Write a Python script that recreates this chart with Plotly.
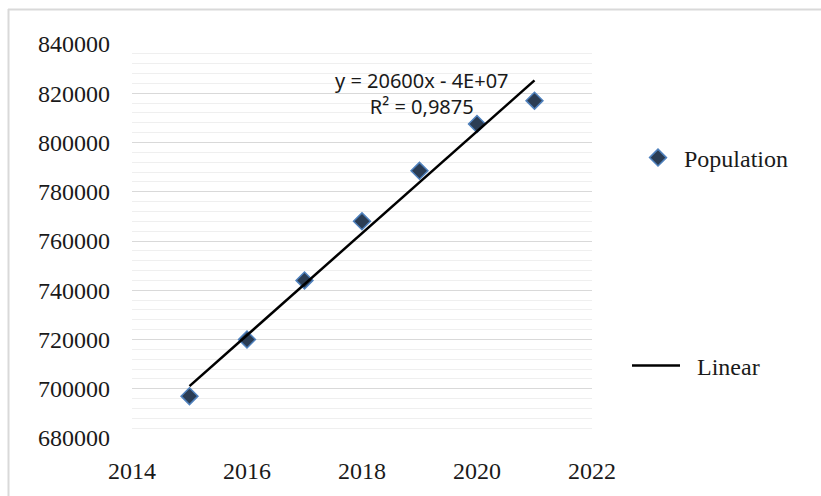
import numpy as np
import plotly.graph_objects as go

# ---- data ----
years = [2015, 2016, 2017, 2018, 2019, 2020, 2021]
population = [697000, 720000, 744000, 768000, 788500, 807500, 817000]
series_name = "Population"
trend_name = "Linear"
equation_text = "y = 20600x - 4E+07"
r2_text = "R² = 0,9875"

# ---- layout constants (pixels) ----
W, H = 821, 496
L, R, T, B = 132, 592, 44, 438
pw, ph = R - L, B - T

def px_x(p):
    return (p - L) / pw

def px_y(p):
    return (B - p) / ph

slope, intercept = np.polyfit(years, population, 1)
tx = [years[0], years[-1]]
ty = [slope * x + intercept for x in tx]

serif = "Liberation Serif, Times New Roman, serif"

fig = go.Figure()
fig.add_trace(go.Scatter(
    x=years, y=population, mode="markers", name=series_name,
    marker=dict(symbol="diamond", size=13, color="#2b3d54",
                line=dict(color="#4f81bd", width=1.5)),
    legend="legend",
))
fig.add_trace(go.Scatter(
    x=tx, y=ty, mode="lines", name="\u00a0\u00a0" + trend_name,
    line=dict(color="black", width=2.5),
    legend="legend2",
))

fig.update_layout(
    width=W, height=H,
    margin=dict(l=L, r=W - R, t=T, b=H - B, pad=0),
    paper_bgcolor="white", plot_bgcolor="white",
    font=dict(family=serif, size=24, color="#1a1a1a"),
    xaxis=dict(range=[2014, 2022], dtick=2, tick0=2014, showgrid=False,
               zeroline=False, showline=False, ticks="",
               ticklabelstandoff=16, tickfont=dict(size=24)),
    yaxis=dict(range=[680000, 840000], dtick=20000, showgrid=True,
               gridcolor="#d9d9d9", gridwidth=1.2, zeroline=False,
               showline=False, ticks="", ticklabelstandoff=21,
               tickformat="d", tickfont=dict(size=24),
               minor=dict(dtick=4000, showgrid=True, gridcolor="#efefef",
                          gridwidth=1)),
    legend=dict(x=px_x(632), y=px_y(158), xanchor="left", yanchor="middle",
                font=dict(family=serif, size=24, color="#1a1a1a"),
                itemwidth=42, bgcolor="rgba(0,0,0,0)"),
    legend2=dict(x=px_x(627), y=px_y(366), xanchor="left", yanchor="middle",
                 font=dict(family=serif, size=24, color="#1a1a1a"),
                 itemwidth=48, bgcolor="rgba(0,0,0,0)"),
    showlegend=True,
)

fig.add_annotation(
    x=px_x(422), y=px_y(93), xref="paper", yref="paper",
    xanchor="center", yanchor="middle",
    text=equation_text + "<br>" + r2_text, showarrow=False,
    font=dict(family="Noto Sans, Liberation Sans, sans-serif", size=20,
              color="#1a1a1a"),
    align="center",
)

# chart border (top and left visible)
border = "#d9d9d9"
fig.add_shape(type="line", xref="paper", yref="paper",
              x0=px_x(8), x1=px_x(W), y0=px_y(9.5), y1=px_y(9.5),
              line=dict(color=border, width=2))
fig.add_shape(type="line", xref="paper", yref="paper",
              x0=px_x(8.5), x1=px_x(8.5), y0=px_y(9), y1=px_y(H),
              line=dict(color=border, width=2))

fig.write_html("out.html")
